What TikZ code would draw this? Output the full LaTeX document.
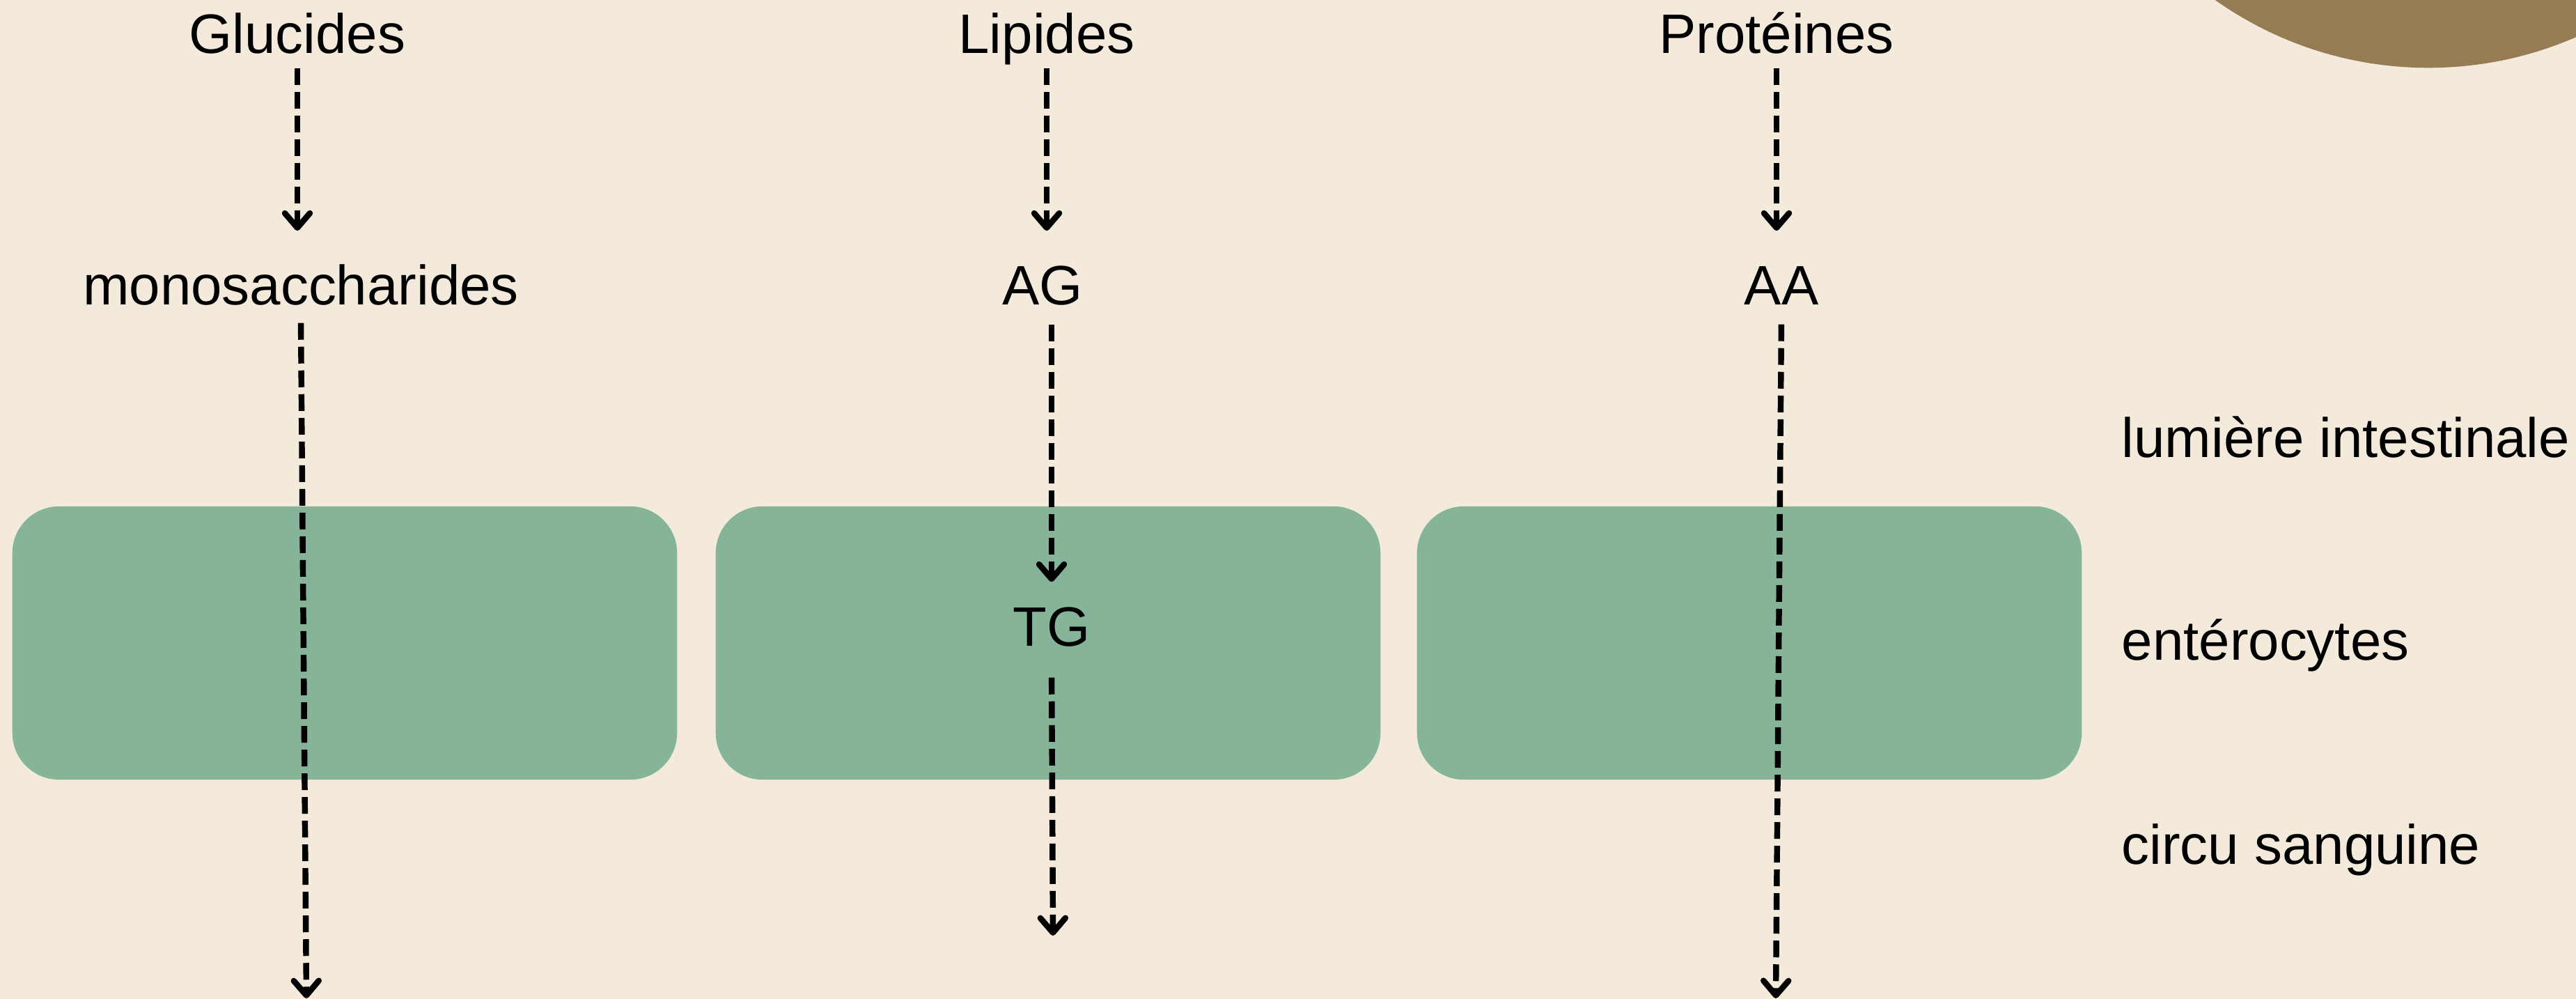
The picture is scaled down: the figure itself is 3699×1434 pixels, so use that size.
\documentclass[tikz,border=0pt]{standalone}
\usepackage{fontspec}
\setmainfont{Liberation Sans}
\usepackage{xcolor}
\usepackage{tikz}
\usetikzlibrary{positioning,calc,arrows.meta}
\definecolor{sable}{RGB}{243,234,220}
\definecolor{vert}{RGB}{134,180,153}
\definecolor{brun}{RGB}{150,124,85}

\begin{document}
\begin{tikzpicture}[x=0.01cm,y=-0.01cm,
    lbl/.style={anchor=base,inner sep=0pt,text height=0.57cm,text depth=0.17cm,
        font=\fontsize{22.7pt}{27pt}\selectfont},
    cell/.style={fill=vert,rounded corners=0.67cm,minimum width=9.54cm,minimum height=3.92cm},
    flow/.style={line width=2.4pt,dash pattern=on 0.24cm off 0.1cm,
        -{Straight Barb[length=0.21cm,width=0.36cm,round]}}]
    % Background
    \useasboundingbox (0,0) rectangle (3699,1434);
    \clip (0,0) rectangle (3699,1434);
    \fill[sable] (0,0) rectangle (3699,1434);
    \fill[brun] (3487,-433) circle (5.3cm);

    % Enterocytes
    \node[cell] (cell1) at (495,923) {};
    \node[cell] (cell2) at (1505,923) {};
    \node[cell] (cell3) at (2512,923) {};

    % Nutrients
    \node[lbl] (glu) at (427,77) {Glucides};
    \node[lbl] (lip) at (1503,77) {Lipides};
    \node[lbl] (pro) at (2551,77) {Protéines};
    \node[lbl] (mono) at (432,438) {monosaccharides};
    \node[lbl] (ag) at (1497,438) {AG};
    \node[lbl] (aa) at (2558,438) {AA};
    \node[lbl] (tg) at (1510,927) {TG};

    % Layers
    \node[lbl,anchor=base west] (lum) at (3046,657) {lumière intestinale};
    \node[lbl,anchor=base west] (ent) at (3046,948) {entérocytes};
    \node[lbl,anchor=base west] (sang) at (3046,1240) {circu sanguine};

    % Free ends
    \coordinate (mono-out) at (440,1433);
    \coordinate (tg-out) at (1512,1343);
    \coordinate (aa-out) at (2550,1433);

    % Absorption
    \draw[flow,shorten <=0.03cm,shorten >=0.49cm] (glu.south) -- (glu.south |- mono.north);
    \draw[flow,shorten <=0.03cm,shorten >=0.49cm] (lip.south) -- (lip.south |- ag.north);
    \draw[flow,shorten <=0.03cm,shorten >=0.49cm] (pro.south) -- (pro.south |- aa.north);
    \draw[flow,shorten <=0.08cm] (mono.south) -- (mono-out);
    \draw[flow,shorten <=0.1cm,shorten >=0.34cm] (tg.north |- ag.south) -- (tg.north);
    \draw[flow,shorten <=0.28cm] (tg.south) -- (tg-out);
    \draw[flow,shorten <=0.1cm] (aa.south) -- (aa-out);
\end{tikzpicture}
\end{document}
